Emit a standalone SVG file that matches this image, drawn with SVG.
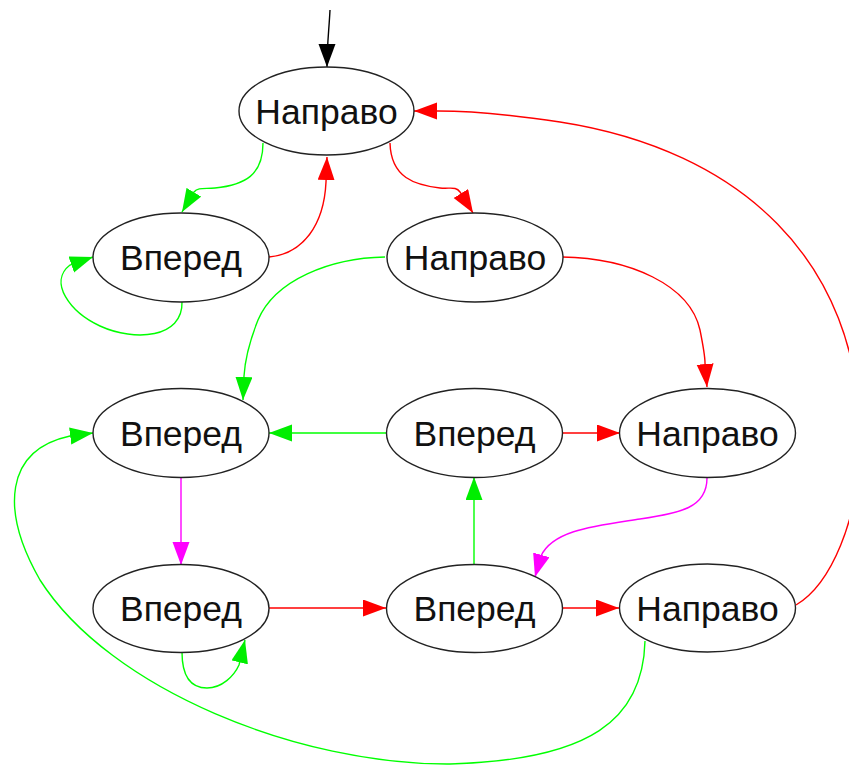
<svg xmlns="http://www.w3.org/2000/svg" width="849" height="765" viewBox="0 0 849 765">
  <style>
    .node ellipse { fill: #ffffff; stroke: #222222; stroke-width: 1.4; }
    .node text { font-family: "Liberation Sans", Arial, sans-serif; font-size: 35.5px; fill: #111111; text-anchor: middle; }
    .edge { fill: none; stroke-width: 1.4; }
    .g { stroke: #00ff00; marker-end: url(#ah-green); }
    .r { stroke: #ff0000; marker-end: url(#ah-red); }
    .m { stroke: #ff00ff; marker-end: url(#ah-magenta); }
    .k { stroke: #000000; marker-end: url(#ah-black); }
  </style>
  <defs>
    <marker id="ah-green" markerUnits="userSpaceOnUse" markerWidth="24" markerHeight="18" refX="23" refY="8.5" orient="auto">
      <path d="M0,0 L23,8.5 L0,17 z" fill="#00ee00"/>
    </marker>
    <marker id="ah-red" markerUnits="userSpaceOnUse" markerWidth="24" markerHeight="18" refX="23" refY="8.5" orient="auto">
      <path d="M0,0 L23,8.5 L0,17 z" fill="#ff0000"/>
    </marker>
    <marker id="ah-magenta" markerUnits="userSpaceOnUse" markerWidth="24" markerHeight="18" refX="23" refY="8.5" orient="auto">
      <path d="M0,0 L23,8.5 L0,17 z" fill="#ff00ff"/>
    </marker>
    <marker id="ah-black" markerUnits="userSpaceOnUse" markerWidth="24" markerHeight="18" refX="23" refY="8.5" orient="auto">
      <path d="M0,0 L23,8.5 L0,17 z" fill="#000000"/>
    </marker>
  </defs>
  <rect width="849" height="765" fill="#ffffff"/>

  <g id="edges">
    <!-- entry arrow -->
    <path class="edge k" d="M330,10 C329,30 327,45 327,67"/>
    <!-- top row -->
    <path class="edge g" d="M263,143 C263,175 245,185 215,188 C205,189 198,187 194,192 L182,212"/>
    <path class="edge r" d="M269,257 C303,254 324,225 326,182 L327,157"/>
    <path class="edge g" d="M182,302 C183,338 135,342 100,326 C70,312 48,282 70,265 L93,257"/>
    <path class="edge r" d="M390,143 C391,178 415,185 440,188 C450,189 456,186 460,192 L473,213"/>
    <!-- second row -->
    <path class="edge g" d="M385,257 C330,258 275,280 258,320 C248,345 245,360 244,376 L243,400"/>
    <path class="edge r" d="M562,257 C630,258 690,285 700,330 C703,345 705,355 705,363 L707,387"/>
    <!-- third row -->
    <path class="edge g" d="M386,433 L269,433"/>
    <path class="edge r" d="M562,433 L620,433"/>
    <path class="edge m" d="M181,478 L181,565"/>
    <path class="edge m" d="M707,478 C707,508 680,513 640,519 C595,526 553,530 541,556 L535,577"/>
    <path class="edge g" d="M474,564 L474,477"/>
    <!-- fourth row -->
    <path class="edge r" d="M269,608 L386,608"/>
    <path class="edge r" d="M562,608 L619,608"/>
    <path class="edge g" d="M182,652 C182,678 192,688 207,688 C222,688 234,676 239,665 L245,640"/>
    <!-- long return edges -->
    <path class="edge r" d="M796,605 C830,585 860,520 860,440 C860,260 740,150 560,122 C500,113 460,111 438,111 L414,111"/>
    <path class="edge g" d="M645,641 C643,720 590,760 450,764 C300,765 110,690 40,580 C0,510 5,450 70,436 L93,433"/>
  </g>

  <g id="n1" class="node"><ellipse cx="326.5" cy="111" rx="87.5" ry="44"/><text x="326.5" y="123.5">Направо</text></g>
  <g id="n2" class="node"><ellipse cx="181" cy="257.5" rx="88" ry="44.5"/><text x="181" y="270">Вперед</text></g>
  <g id="n3" class="node"><ellipse cx="475" cy="257.5" rx="88" ry="44.5"/><text x="475" y="270">Направо</text></g>
  <g id="n4" class="node"><ellipse cx="181" cy="433" rx="88" ry="44.5"/><text x="181" y="445.5">Вперед</text></g>
  <g id="n5" class="node"><ellipse cx="474.5" cy="433" rx="88" ry="44.5"/><text x="474.5" y="445.5">Вперед</text></g>
  <g id="n6" class="node"><ellipse cx="707.5" cy="433" rx="88" ry="44.5"/><text x="707.5" y="445.5">Направо</text></g>
  <g id="n7" class="node"><ellipse cx="181" cy="608.5" rx="88" ry="44"/><text x="181" y="621">Вперед</text></g>
  <g id="n8" class="node"><ellipse cx="474.5" cy="608.5" rx="88" ry="44"/><text x="474.5" y="621">Вперед</text></g>
  <g id="n9" class="node"><ellipse cx="707.5" cy="608" rx="88" ry="44"/><text x="707.5" y="620.5">Направо</text></g>
</svg>
